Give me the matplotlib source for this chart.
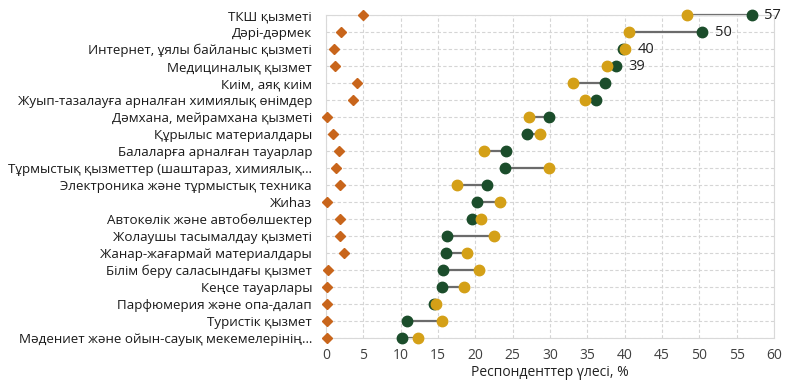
import matplotlib
matplotlib.use("Agg")
from matplotlib import pyplot as plt

plt.rcParams['font.family'] = ['Open Sans', 'DejaVu Sans']

# Данные
categories = [
    "ТКШ қызметі",
    "Дәрі-дәрмек",
    "Интернет, ұялы байланыс қызметі",
    "Медициналық қызмет",
    "Киім, аяқ киім",
    "Жуып-тазалауға арналған химиялық өнімдер",
    "Дәмхана, мейрамхана қызметі",
    "Құрылыс материалдары",
    "Балаларға арналған тауарлар",
    "Тұрмыстық қызметтер (шаштараз, химиялық…",
    "Электроника және тұрмыстық техника",
    "Жиһаз",
    "Автокөлік және автобөлшектер",
    "Жолаушы тасымалдау қызметі",
    "Жанар-жағармай материалдары",
    "Білім беру саласындағы қызмет",
    "Кеңсе тауарлары",
    "Парфюмерия және опа-далап",
    "Туристік қызмет",
    "Мәдениет және ойын-сауық мекемелерінің…",
]
green = [57.0, 50.4, 39.8, 38.8, 37.3, 36.2, 29.9, 26.9, 24.1, 24.0,
         21.6, 20.2, 19.5, 16.2, 16.1, 15.7, 15.6, 14.4, 10.8, 10.2]
gold = [48.3, 40.6, 40.0, 37.7, 33.1, 34.7, 27.2, 28.6, 21.1, 29.8,
        17.5, 23.3, 20.7, 22.5, 18.9, 20.5, 18.5, 14.7, 15.5, 12.3]
diamond = [4.9, 2.0, 1.1, 1.2, 4.1, 3.6, 0.2, 0.9, 1.7, 1.3,
           1.9, 0.2, 1.9, 1.9, 2.4, 0.3, 0.2, 0.2, 0.2, 0.2]
labels = {0: "57", 1: "50", 2: "40", 3: "39"}

fig = plt.figure(figsize=(8, 3.81), dpi=100)
ax = fig.add_axes([0.4075, 0.1129, 0.56, 0.8477])

y = list(range(len(categories)))
for i in y:
    ax.plot([green[i], gold[i]], [i, i], color='#6b6b6b', lw=1.6, zorder=2, clip_on=False)
ax.plot(diamond, y, 'D', color='#c8651b', ms=5.5, ls='none', zorder=3, clip_on=False)
ax.plot(green, y, 'o', color='#1b4d2b', ms=7.5, ls='none', zorder=4, clip_on=False)
ax.plot(gold, y, 'o', color='#d4a017', ms=7.5, ls='none', zorder=5, clip_on=False)

for i, t in labels.items():
    ax.annotate(t, (max(green[i], gold[i]), i), xytext=(9, 0), textcoords='offset points',
                va='center', ha='left', fontsize=10.5, color='#222222')

ax.set_xlim(0, 60)
ax.set_ylim(19, 0)
ax.set_xticks(range(0, 61, 5))
ax.set_yticks(y)
ax.set_yticklabels(categories)
ax.tick_params(axis='y', length=0, pad=10, labelsize=9.6, labelcolor='#1a1a1a')
ax.tick_params(axis='x', length=0, pad=7, labelsize=10, labelcolor='#404040')
ax.grid(True, ls=(0, (3, 2)), color='#d5d5d5', lw=0.8)
ax.set_axisbelow(True)
for s in ax.spines.values():
    s.set_color('#d9d9d9')
ax.set_xlabel("Респонденттер үлесі, %", fontsize=10, color='#222222', labelpad=1.5)

fig.savefig("out.png", dpi=100)
